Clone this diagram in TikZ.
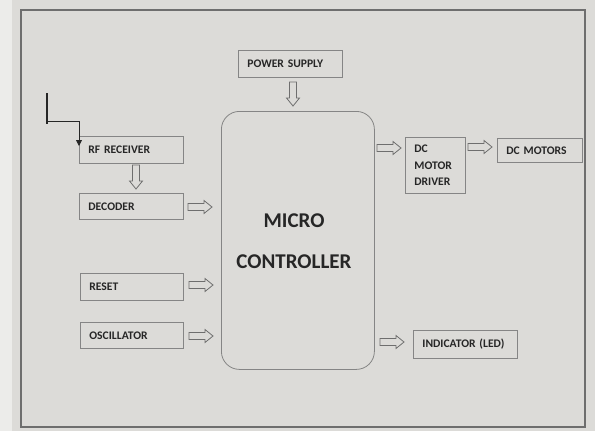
\documentclass[tikz,border=0pt]{standalone}
\usepackage{fontspec}
\setmainfont{Carlito}
\usetikzlibrary{arrows.meta}
\definecolor{paper}{HTML}{DCDBD8}
\definecolor{paperedge}{HTML}{ECECEA}
\definecolor{framegrey}{HTML}{6E6E6E}
\definecolor{boxgrey}{HTML}{858585}
\definecolor{inkdark}{HTML}{262626}

\tikzset{
  box/.style={draw=boxgrey, line width=0.8pt, anchor=north west,
              inner xsep=9pt, inner ysep=0pt, align=left, text=inkdark,
              font=\bfseries\fontsize{11.6}{16.5}\selectfont},
  arrowline/.style={draw=framegrey, line width=0.8pt, fill=paper},
  hollowarrow/.pic={
    \path[arrowline] (0,-3.5) -- (16,-3.5) -- (16,-6.5) -- (24,0)
      -- (16,6.5) -- (16,3.5) -- (0,3.5) -- cycle;
  }
}

\begin{document}
\begin{tikzpicture}[x=1pt, y=-1pt]

  %% photo background and sheet frame
  \fill[paper] (0,0) rectangle (595,431);
  \fill[paperedge] (0,0) rectangle (12,431);
  \useasboundingbox (0,0) rectangle (595,431);
  \draw[framegrey, line width=1.1pt] (21,10) rectangle (585,427);

  %% input blocks
  \node[box, text width=86pt, minimum height=27pt] (rf)  at (79,136) {RF RECEIVER};
  \node[box, text width=86pt, minimum height=26pt] (dec) at (79,193) {DECODER};
  \node[box, text width=85pt, minimum height=27pt] (rst) at (80,273) {RESET};
  \node[box, text width=85pt, minimum height=26pt] (osc) at (80,322) {OSCILLATOR};
  \node[box, text width=86pt, minimum height=27pt] (psu) at (238,50) {POWER SUPPLY};

  %% microcontroller
  \node[draw=boxgrey, line width=0.8pt, rounded corners=18pt, anchor=north west,
        minimum width=153pt, minimum height=258pt] (mcu) at (221,111) {};
  \node[text=inkdark, align=center, font=\bfseries\fontsize{21}{41}\selectfont]
        (mcutext) at (294,241) {MICRO\\CONTROLLER};

  %% output blocks
  \node[box, text width=42pt, minimum height=56pt] (drv) at (405,137) {DC\\MOTOR\\DRIVER};
  \node[box, text width=67pt, minimum height=24pt] (mot) at (497,138) {DC MOTORS};
  \node[box, text width=86pt, minimum height=28pt] (led) at (413,330) {INDICATOR (LED)};

  %% antenna feeding the receiver
  \coordinate (anttop)  at (47,93);
  \coordinate (antfoot) at (47,121);
  \coordinate (feed)    at (79,146);
  \draw[inkdark, line width=1.4pt] (anttop) -- (47,124);
  \draw[inkdark, line width=0.8pt, -{Triangle[length=6pt,width=6pt]}] (antfoot) -| (feed);

  %% block arrows
  \pic[rotate=-90] at (293,82)  {hollowarrow};
  \pic[rotate=-90] at (136,165) {hollowarrow};
  \pic at (188,207) {hollowarrow};
  \pic at (189,285) {hollowarrow};
  \pic at (189,336) {hollowarrow};
  \pic at (377,148) {hollowarrow};
  \pic at (468,147) {hollowarrow};
  \pic at (380,342) {hollowarrow};

\end{tikzpicture}
\end{document}
